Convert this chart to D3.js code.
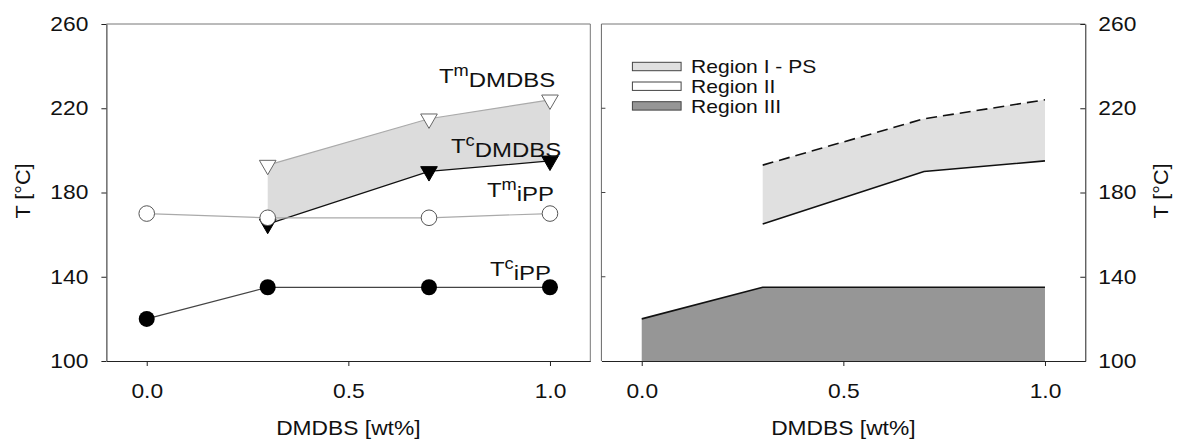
<!DOCTYPE html>
<html>
<head>
<meta charset="utf-8">
<script src="https://cdn.jsdelivr.net/npm/d3@7"></script>
<style>
  html, body { margin: 0; padding: 0; background: #fff; }
  svg { display: block; font-family: "Liberation Sans", Arial, sans-serif; }
</style>
</head>
<body>
<svg id="chart" width="1178" height="443"></svg>
<script>
// DMDBS content (wt%) for the iPP series and for the DMDBS series
const wt = [0, 0.3, 0.7, 1.0];
const wtDMDBS = [0.3, 0.7, 1.0];

// Transition temperatures (°C)
const tcIPP = [120, 135, 135, 135];    // crystallization of iPP
const tmIPP = [170, 168, 168, 170];    // melting of iPP
const tcDMDBS = [165, 190, 195];       // crystallization of DMDBS
const tmDMDBS = [193, 215, 224];       // melting / dissolution of DMDBS

const yTicks = [100, 140, 180, 220, 260];
const xTicks = [0, 0.5, 1.0];
const regionNames = ["Region I - PS", "Region II", "Region III"];
const regionFills = ["#e0e0e0", "#ffffff", "#969696"];

const svg = d3.select("#chart");
const STRETCH = 1.14;   // glyphs are drawn slightly wide

function widen(sel, s = STRETCH) {
  sel.each(function () {
    const t = d3.select(this);
    const x = +(t.attr("x") || 0), y = +(t.attr("y") || 0);
    const prev = t.attr("transform") || "";
    t.attr("transform", `${prev} translate(${x},${y}) scale(${s},1) translate(${-x},${-y})`);
  });
  return sel;
}

const y = d3.scaleLinear().domain([100, 260]).range([361, 24]);
const xL = d3.scaleLinear().domain([-0.1, 1.1]).range([106.4, 590.3]);
const xR = d3.scaleLinear().domain([-0.1, 1.1]).range([601.4, 1085.3]);

const fmtX = d3.format(".1f");

function frame(g, x) {
  const [l, r] = x.range(), [b, t] = y.range();
  g.append("line").attr("x1", l).attr("x2", r).attr("y1", t).attr("y2", t).attr("stroke", "#777");
  return { l, r, t, b };
}

function xAxis(x) {
  const g = svg.append("g").attr("transform", `translate(0,${y.range()[0]})`)
    .call(d3.axisBottom(x).tickValues(xTicks).tickFormat(fmtX).tickSize(5).tickPadding(18).tickSizeOuter(0));
  g.select(".domain").attr("stroke", "#222");
  g.selectAll(".tick line").attr("stroke", "#222");
  g.selectAll("text").attr("font-size", 20).attr("fill", "#111")
    .attr("font-family", "Liberation Sans, Arial, sans-serif");
  widen(g.selectAll("text"));
  return g;
}

function xTitle(x) {
  const [l, r] = x.range();
  widen(svg.append("text").attr("x", (l + r) / 2).attr("y", 435)
    .attr("text-anchor", "middle").attr("font-size", 20).attr("fill", "#111")
    .text("DMDBS [wt%]"));
}

// ---------- left panel: measured temperatures ----------
frame(svg, xL);
svg.append("line").attr("x1", xL.range()[1]).attr("x2", xL.range()[1])
  .attr("y1", y.range()[1]).attr("y2", y.range()[0]).attr("stroke", "#777");

const gyL = svg.append("g").attr("transform", `translate(${xL.range()[0]},0)`)
  .call(d3.axisLeft(y).tickValues(yTicks).tickSize(5).tickPadding(13).tickSizeOuter(0));
gyL.select(".domain").attr("stroke", "#222");
gyL.selectAll(".tick line").attr("stroke", "#222");
gyL.selectAll("text").attr("font-size", 20).attr("fill", "#111")
  .attr("font-family", "Liberation Sans, Arial, sans-serif");
widen(gyL.selectAll("text"));
xAxis(xL);
xTitle(xL);

widen(svg.append("text").attr("transform", "translate(29.5,191) rotate(-90)")
  .attr("text-anchor", "middle").attr("font-size", 20).attr("fill", "#111").text("T [°C]"), 1.08);

const dm = wtDMDBS.map((w, i) => ({ w, lo: tcDMDBS[i], hi: tmDMDBS[i] }));
const ipp = wt.map((w, i) => ({ w, c: tcIPP[i], m: tmIPP[i] }));

svg.append("path").datum(dm)
  .attr("d", d3.area().x(d => xL(d.w)).y0(d => y(d.lo)).y1(d => y(d.hi)))
  .attr("fill", "#dcdcdc");

const lineL = (key) => d3.line().x(d => xL(d.w)).y(d => y(d[key]));
svg.append("path").datum(dm).attr("d", lineL("hi")).attr("fill", "none").attr("stroke", "#aaa").attr("stroke-width", 1.2);
svg.append("path").datum(dm).attr("d", lineL("lo")).attr("fill", "none").attr("stroke", "#111").attr("stroke-width", 1.2);
svg.append("path").datum(ipp).attr("d", lineL("m")).attr("fill", "none").attr("stroke", "#aaa").attr("stroke-width", 1.2);
svg.append("path").datum(ipp).attr("d", lineL("c")).attr("fill", "none").attr("stroke", "#444").attr("stroke-width", 1.2);

const tri = d3.symbol().type(d3.symbolTriangle).size(120);
svg.append("g").selectAll("path").data(dm).join("path")
  .attr("d", tri).attr("transform", d => `translate(${xL(d.w)},${y(d.hi)}) rotate(180)`)
  .attr("fill", "#fff").attr("stroke", "#666").attr("stroke-width", 1);
svg.append("g").selectAll("path").data(dm).join("path")
  .attr("d", tri).attr("transform", d => `translate(${xL(d.w)},${y(d.lo)}) rotate(180)`)
  .attr("fill", "#000").attr("stroke", "#000").attr("stroke-width", 1);
svg.append("g").selectAll("circle").data(ipp).join("circle")
  .attr("cx", d => xL(d.w)).attr("cy", d => y(d.m)).attr("r", 7.8)
  .attr("fill", "#fff").attr("stroke", "#555").attr("stroke-width", 1);
svg.append("g").selectAll("circle").data(ipp).join("circle")
  .attr("cx", d => xL(d.w)).attr("cy", d => y(d.c)).attr("r", 8)
  .attr("fill", "#000");

// series labels, placed relative to the last data point of each series
function seriesLabel(sup, sub, value, dx, dy) {
  const t = svg.append("text").attr("x", xL(1.0) + dx).attr("y", y(value) + dy)
    .attr("fill", "#111").attr("font-size", 21);
  t.append("tspan").text("T");
  t.append("tspan").attr("font-size", 16).attr("dy", -6.5).text(sup);
  t.append("tspan").attr("font-size", 21).attr("dy", 10.5).text(sub);
  widen(t);
}
seriesLabel("m", "DMDBS", tmDMDBS[2], -111, -17);
seriesLabel("c", "DMDBS", tcDMDBS[2], -99, -8);
seriesLabel("m", "iPP", tmIPP[3], -63, -16.6);
seriesLabel("c", "iPP", tcIPP[3], -60, -11.4);

// ---------- right panel: processing regions ----------
frame(svg, xR);
svg.append("line").attr("x1", xR.range()[0]).attr("x2", xR.range()[0])
  .attr("y1", y.range()[1]).attr("y2", y.range()[0]).attr("stroke", "#666");

// inward ticks on the left edge
svg.append("g").selectAll("line").data(yTicks.slice(1, -1)).join("line")
  .attr("x1", xR.range()[0]).attr("x2", xR.range()[0] + 4)
  .attr("y1", d => y(d)).attr("y2", d => y(d)).attr("stroke", "#444");

const gyR = svg.append("g").attr("transform", `translate(${xR.range()[1]},0)`)
  .call(d3.axisRight(y).tickValues(yTicks).tickSize(-5).tickPadding(13).tickSizeOuter(0));
gyR.select(".domain").attr("stroke", "#222");
gyR.selectAll(".tick line").attr("stroke", "#222");
gyR.selectAll("text").attr("font-size", 20).attr("fill", "#111")
  .attr("font-family", "Liberation Sans, Arial, sans-serif");
widen(gyR.selectAll("text"));
xAxis(xR);
xTitle(xR);

widen(svg.append("text").attr("transform", "translate(1168,191) rotate(-90)")
  .attr("text-anchor", "middle").attr("font-size", 20).attr("fill", "#111").text("T [°C]"), 1.08);

// Region III: below iPP crystallization
svg.append("path").datum(ipp)
  .attr("d", d3.area().x(d => xR(d.w)).y0(y(100)).y1(d => y(d.c)))
  .attr("fill", regionFills[2]);
svg.append("path").datum(ipp)
  .attr("d", d3.line().x(d => xR(d.w)).y(d => y(d.c)))
  .attr("fill", "none").attr("stroke", "#111").attr("stroke-width", 1.6);

// Region I: between DMDBS crystallization and dissolution
svg.append("path").datum(dm)
  .attr("d", d3.area().x(d => xR(d.w)).y0(d => y(d.lo)).y1(d => y(d.hi)))
  .attr("fill", regionFills[0]);
svg.append("path").datum(dm)
  .attr("d", d3.line().x(d => xR(d.w)).y(d => y(d.lo)))
  .attr("fill", "none").attr("stroke", "#111").attr("stroke-width", 1.6);
svg.append("path").datum(dm)
  .attr("d", d3.line().x(d => xR(d.w)).y(d => y(d.hi)))
  .attr("fill", "none").attr("stroke", "#111").attr("stroke-width", 1.6)
  .attr("stroke-dasharray", "11,6");

// legend
const lg = svg.append("g").attr("transform", `translate(${xR.range()[0] + 31},62.3)`);
regionNames.forEach((name, i) => {
  lg.append("rect").attr("x", 0).attr("y", i * 19.7).attr("width", 48.7).attr("height", 8.4)
    .attr("fill", regionFills[i]).attr("stroke", "#444").attr("stroke-width", 1);
  widen(lg.append("text").attr("x", 58.7).attr("y", i * 19.7 + 11)
    .attr("font-size", 18).attr("fill", "#111").text(name), 1.17);
});
</script>
</body>
</html>
